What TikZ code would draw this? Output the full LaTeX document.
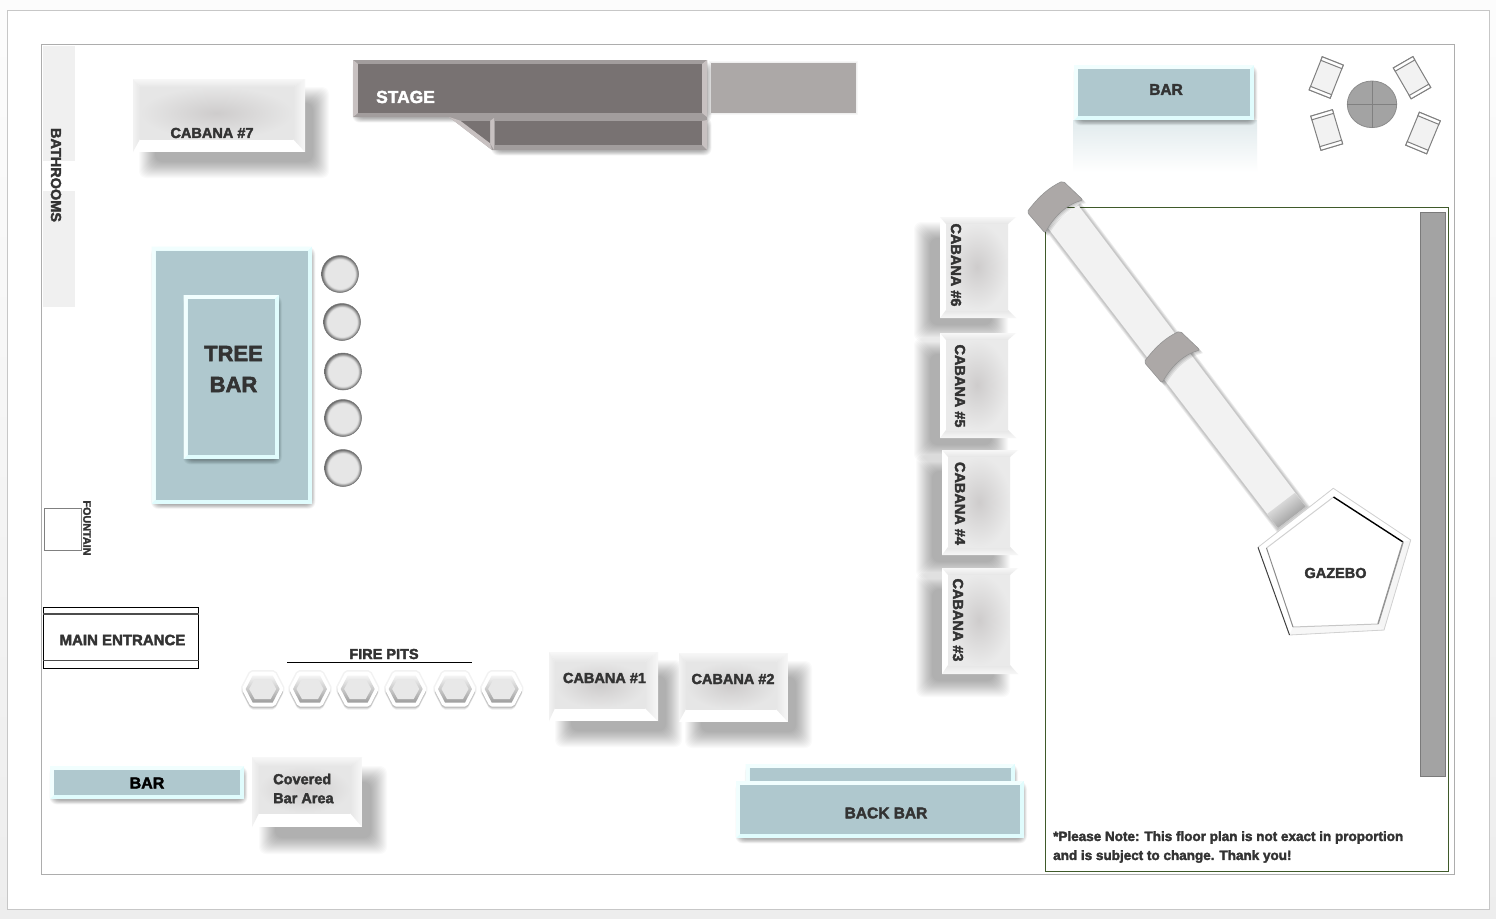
\documentclass[tikz,border=0pt]{standalone}
\usepackage{fontspec}
\setmainfont{Liberation Sans}[BoldFeatures={FakeBold=2.4}]
\definecolor{inktext}{HTML}{333333}
\definecolor{barblue}{HTML}{AFC8CE}
\definecolor{barglow}{HTML}{E0FCFD}
\definecolor{stagedark}{HTML}{787272}
\definecolor{stageside}{HTML}{C8C1C1}
\definecolor{stageedge}{HTML}{A29D9D}
\definecolor{capgrey}{HTML}{ACA8A7}
\definecolor{wallgrey}{HTML}{A3A3A3}
\definecolor{bevelgrey}{HTML}{E6E6E6}
\definecolor{cabanamid}{HTML}{CECCCC}
\definecolor{gazeboline}{HTML}{3F5A2A}
\pgfdeclareradialshading{stoolshade}{\pgfpoint{0bp}{0bp}}{color(0bp)=(bevelgrey); color(20bp)=(bevelgrey); color(25bp)=(black!60); color(50bp)=(black!60)}
\newcommand{\softshadow}[5][1]{\foreach \s in {-9,-8,...,7}{\fill[black,opacity=0.02,rounded corners=7pt] ({#2+#1*\s},{#3+#1*\s}) rectangle ({#4-#1*\s},{#5-#1*\s});}}
\newcommand{\hexpath}[3]{(-#1,0) -- (-#2,-#3) -- (#2,-#3) -- (#1,0) -- (#2,#3) -- (-#2,#3) -- cycle}
\tikzset{
	plantext/.style={font=\bfseries\fontsize{14.5}{19}\selectfont,text=inktext,inner sep=0pt},
	chair/.style={fill=black!5,draw=black!50,line width=1pt}
}
\begin{document}
\begin{tikzpicture}[x=1pt,y=-1pt]
		\useasboundingbox (0,0) rectangle (1496,918);
		\shade[top color=black!1,bottom color=black!7] (0,0) rectangle (1496,918);
		\draw[fill=white,draw=black!22] (7,10) rectangle (1489,909);
		\draw[draw=black!32,line width=1pt] (41,44) rectangle (1454,874);
		
		\fill[black!6] (43,46) rectangle (75,161);
		\fill[black!6] (43,191) rectangle (75,307);
		\node[plantext,rotate=-90] (bathrooms) at (56,175) {BATHROOMS};
		
		\foreach \xa/\ya/\xb/\yb/\ia/\ib/\ic/\id/\sx/\sy in {133/79/305/152/140/87/293/139/15/17,549/652/658/721/555/662/645/708/15/17,679/653/788/722/686/662/776/709/15/17,252/757/362/827/259/766/350/813/16/18}{
			\softshadow{\xa+\sx}{\ya+\sy}{\xb+\sx}{\yb+\sy}
			\fill[white] (\xa,\ya) rectangle (\xb,\yb);
			\shade[top color=black!3,bottom color=bevelgrey] (\xa,\ya) -- (\xb,\ya) -- (\ic,\ib) -- (\ia,\ib) -- cycle;
			\shade[left color=black!5,right color=bevelgrey] (\xa,\ya) -- (\ia,\ib) -- (\ia,\id) -- (\xa,\yb) -- cycle;
			\shade[left color=bevelgrey,right color=black!3] (\xb,\ya) -- (\ic,\ib) -- (\ic,\id) -- (\xb,\yb) -- cycle;
			\shade[inner color=cabanamid,outer color=bevelgrey] (\ia,\ib) rectangle (\ic,\id);
		}
		\foreach \xa/\ya/\xb/\yb/\ia/\ib/\ic/\id/\sx/\sy in {940/217/1016/318/946/224/1008/310/-17/14,940/333/1016/438/946/340/1008/430/-17/14,942/450/1018/555/948/457/1010/547/-17/14,942/568/1018/674/948/575/1010/665/-17/14}{
			\softshadow{\xa+\sx}{\ya+\sy}{\xb+\sx}{\yb+\sy}
			\fill[white] (\xa,\ya) rectangle (\xb,\yb);
			\shade[top color=black!3,bottom color=bevelgrey] (\xa,\ya) -- (\xb,\ya) -- (\ic,\ib) -- (\ia,\ib) -- cycle;
			\shade[top color=bevelgrey,bottom color=black!3] (\xa,\yb) -- (\xb,\yb) -- (\ic,\id) -- (\ia,\id) -- cycle;
			\shade[inner color=cabanamid,outer color=bevelgrey!85] (\ia,\ib) rectangle (\ic,\id);
		}
		\node[plantext] (cabana7) at (212,133) {CABANA \#7};
		\node[plantext] (cabana1) at (604.5,678) {CABANA \#1};
		\node[plantext] (cabana2) at (733,679) {CABANA \#2};
		\node[plantext,rotate=-90] (cabana6) at (956,265) {CABANA  \#6};
		\node[plantext,rotate=-90] (cabana5) at (960,386) {CABANA  \#5};
		\node[plantext,rotate=-90] (cabana4) at (960,503.5) {CABANA  \#4};
		\node[plantext,rotate=-90] (cabana3) at (958,620) {CABANA \#3};
		\node[plantext,anchor=west,align=left] (covered) at (273,788.5) {Covered\\Bar Area};
		
		\softshadow[0.3]{355}{64}{709}{120}
		\softshadow[0.3]{494}{120}{709}{153}
		\fill[stageedge] (353,60) -- (707,60) -- (707,150) -- (492,150) -- (449,117) -- (353,117) -- cycle;
		\fill[stageside] (353,60) -- (358,64) -- (358,113) -- (353,117) -- cycle;
		\fill[stageside] (707,60) -- (702,64) -- (702,113) -- (707,117) -- cycle;
		\fill[stageside] (707,120) -- (702,121) -- (702,145) -- (707,150) -- cycle;
		\fill[stageside] (449,117) -- (492,150) -- (490,143) -- (461,121) -- cycle;
		\fill[stageside] (490,121) -- (494,118) -- (494,150) -- (490,143) -- cycle;
		\fill[stagedark] (358,64) rectangle (702,113);
		\fill[stagedark] (494.5,120.5) rectangle (702,145);
		\fill[stagedark] (461,121) -- (490,121) -- (490,143) -- cycle;
		\node[plantext,font=\bfseries\fontsize{17.4}{19}\selectfont,text=white] (stage) at (405.5,97) {STAGE};
		\foreach \s in {0,1,2}{\fill[black,opacity=0.03] (711-\s,62.7-\s) rectangle (855.5+\s,112.7+\s);}
		\fill[capgrey] (711,63) rectangle (855.5,112.5);
		
		\shade[top color=barblue!38,bottom color=white] (1073,120) rectangle (1257,172);
		\foreach \xa/\ya/\xb/\yb in {1074/65/1254/120,151.5/246.5/312/503.5,183.5/295/278.5/459,50/766/244/799,745.5/764/1014.5/800,736/781/1023.5/838}{
			\softshadow[0.28]{\xa+2}{\ya+3}{\xb+1}{\yb+3}
			\fill[barglow] (\xa,\ya) rectangle (\xb,\yb);
			\fill[barglow!45!white] (\xa,\ya) -- (\xb,\ya) -- (\xb-4,\ya+4) -- (\xa+4,\ya+4) -- (\xa+4,\yb-4) -- (\xa,\yb) -- cycle;
			\fill[barblue] (\xa+4,\ya+4) rectangle (\xb-4,\yb-4);
		}
		\node[plantext,font=\bfseries\fontsize{15.5}{19}\selectfont] (topbar) at (1166,89.5) {BAR};
		\node[plantext,font=\bfseries\fontsize{22}{31}\selectfont,align=center] (treebar) at (233.5,369) {TREE\\BAR};
		\node[plantext,font=\bfseries\fontsize{16}{19}\selectfont,text=black] (sidebar) at (147,783) {BAR};
		\node[plantext,font=\bfseries\fontsize{15.5}{19}\selectfont] (backbar) at (886,813) {BACK BAR};
		
		\foreach \cx/\cy in {340/274,342/322,343/371.5,343/418,343/468}{
			\shade[shading=stoolshade] (\cx,\cy) circle (18.5);
			\draw[black!55,line width=0.5pt] (\cx,\cy) circle (18.5);
		}
		
		\draw[black!50,fill=white,line width=0.8pt] (44,508) rectangle (81,550);
		\node[plantext,font=\bfseries\fontsize{10.8}{12}\selectfont,rotate=-90] (fountain) at (87,528) {FOUNTAIN};
		
		\draw[black,line width=1pt] (43,607) rectangle (198.5,668);
		\draw[black!70,line width=1.3pt] (43,614) -- (198.5,614);
		\draw[black!70,line width=1.3pt] (43,660.7) -- (198.5,660.7);
		\node[plantext,font=\bfseries\fontsize{15}{19}\selectfont] (entrance) at (122.5,640) {MAIN ENTRANCE};
		
		\node[plantext] (firepits) at (384,654) {FIRE PITS};
		\draw[black,line width=0.8pt] (287,662) -- (472,662);
		\foreach \px in {262.7,310,357.7,405.7,455,501.7}{
			\begin{scope}[shift={(\px,689)}]
				\draw[black,opacity=0.05,line width=3pt,rounded corners=2pt] \hexpath{21}{12}{17.5};
				\foreach \s in {1,2,3}{\fill[black,opacity=0.08,shift={(0,\s)},rounded corners=2pt] \hexpath{21}{12}{17.5};}
				\fill[white,rounded corners=2pt] \hexpath{21}{12}{17.5};
				\shade[top color=black!4,bottom color=black!38] \hexpath{17}{10}{13.5};
				\fill[black!9] \hexpath{13.5}{8}{10};
			\end{scope}
		}
		
		\draw[gazeboline,line width=1pt] (1045.7,207.5) rectangle (1448.3,871.5);
		\draw[black!52,fill=wallgrey,line width=0.8pt] (1420,212.3) rectangle (1445,776.5);
		
		\foreach \s in {7,5,3}{\draw[black,opacity=0.08,line width=\s pt] (1048,228) -- (1278,528) -- (1305.7,506.7) -- (1078,205);}
		\fill[black!5] (1048,228) -- (1278,528) -- (1305.7,506.7) -- (1078,205) -- cycle;
		\shade[top color=black!5,bottom color=black!45,shading angle=37.5] (1267,514) -- (1278,528) -- (1305.7,506.7) -- (1295,492.7) -- cycle;
		\foreach \dx/\dy in {0/0,117/150}{
			\begin{scope}[shift={(\dx,\dy)}]
				\foreach \s in {1,2,3}{\fill[black,opacity=0.08,shift={(\s,\s)}] (1027,212) .. controls (1040,195) and (1050,187) .. (1063,181) -- (1083,200) .. controls (1068,204) and (1055,215) .. (1045,233) -- cycle;}
				\draw[black!42,fill=capgrey,line width=0.6pt,rounded corners=2pt] (1027,212) .. controls (1040,195) and (1050,187) .. (1063,181) -- (1083,200) .. controls (1068,204) and (1055,215) .. (1045,233) -- cycle;
			\end{scope}
		}
		
		\coordinate (ga) at (1333.3,488.3);
		\coordinate (gb) at (1410.7,540);
		\coordinate (gc) at (1384,630);
		\coordinate (gd) at (1289.5,635);
		\coordinate (ge) at (1258,547.3);
		\coordinate (ia) at (1333.5,497);
		\coordinate (ib) at (1403,542);
		\coordinate (ic) at (1378,624);
		\coordinate (id) at (1293,627);
		\coordinate (ie) at (1266.5,548);
		\foreach \s in {1,2,3,4,5}{\fill[black,opacity=0.07,shift={(\s+1,\s+1)}] (ga) -- (gb) -- (gc) -- (gd) -- (ge) -- cycle;}
		\fill[white] (ga) -- (gb) -- (gc) -- (gd) -- (ge) -- cycle;
		\fill[black!4] (gb) -- (gc) -- (ic) -- (ib) -- cycle;
		\fill[black!3] (gc) -- (gd) -- (id) -- (ic) -- cycle;
		\draw[black!18,line width=0.8pt] (ge) -- (ga) -- (gb) -- (gc) -- (gd);
		\draw[black!75,line width=1pt] (ge) -- (gd);
		\draw[black!18,line width=1pt] (ie) -- (ia);
		\draw[black,line width=1.4pt] (ia) -- (ib);
		\draw[black!42,line width=1.5pt] (ib) -- (ic);
		\draw[black!22,line width=1pt] (ic) -- (id);
		\draw[black!45,line width=1pt] (id) -- (ie);
		\node[plantext] (gazebo) at (1335.5,573) {GAZEBO};
		
		\foreach \cx/\cy/\ca in {1326.2/77.5/21.6,1412/77.7/-30,1326.7/130/-16.6,1423/133/22.5}{
			\begin{scope}[shift={(\cx,\cy)},rotate=-\ca]
				\draw[chair] (-11.3,-17.8) rectangle (11.3,17.8);
				\draw[black!50,fill=white,line width=1pt] (-11.3,-17.8) rectangle (11.3,-14);
				\draw[black!50,fill=white,line width=1pt] (-11.3,14) rectangle (11.3,17.8);
			\end{scope}
		}
		\draw[black!45,fill=wallgrey,line width=0.8pt] (1372,104.3) ellipse (24.7 and 23.3);
		\draw[black!50,line width=1pt] (1347.3,104.3) -- (1396.7,104.3);
		\draw[black!50,line width=1pt] (1372,81) -- (1372,127.6);
		
		\node[plantext,font=\bfseries\fontsize{13.5}{19}\selectfont,anchor=west,align=left] (note) at (1053,847) {*Please Note: This floor plan is not exact in proportion\\and is subject to change. Thank you!};
		\end{tikzpicture}
\end{document}
